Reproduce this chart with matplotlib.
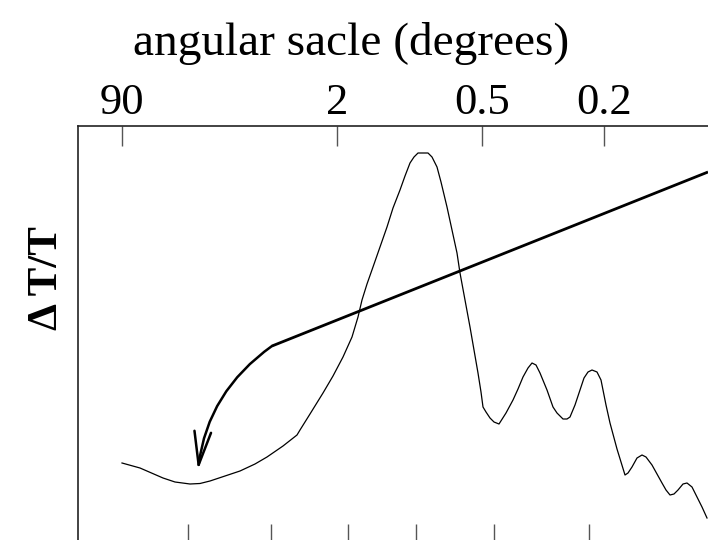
import matplotlib
matplotlib.use("Agg")
import matplotlib.pyplot as plt

# ---- data (arbitrary units) ----
curve_x = [44, 62, 85, 97, 112, 122, 132, 147, 162, 177, 189, 205, 219, 222, 232, 245, 255,
           265, 274, 280, 284, 289, 295, 302, 309, 315, 322, 327, 332, 336, 340, 350, 354,
           359, 363, 369, 374, 379, 382, 387, 392, 396, 400, 403, 405, 408, 412, 416, 421,
           428, 435, 440, 445, 450, 454, 458, 462, 469, 475, 479, 485, 489, 492, 497, 502,
           506, 510, 514, 519, 523, 525, 528, 532, 539, 547, 550, 554, 559, 564, 568, 574,
           579, 584, 588, 592, 596, 600, 605, 609, 614, 619, 624, 629]
curve_y = [77, 72, 62, 58, 56, 56.5, 59, 64, 69, 76, 83, 94, 105, 110, 126, 147, 164,
           183, 203, 223, 240, 256, 273, 293, 313, 332, 350, 364, 377, 383, 387, 387, 383,
           373, 358, 333, 310, 287, 267, 240, 213, 190, 167, 148, 133, 128, 122, 118, 116,
           127, 140, 151, 163, 172, 177, 175, 167, 150, 133, 127, 121, 121, 123, 135, 150,
           162, 168, 170, 168, 160, 150, 135, 117, 91, 65, 67, 73, 82, 85, 83, 75,
           66, 57, 50, 45, 46, 50, 56, 57, 53, 43, 33, 22]

line_x = [194, 630]
line_y = [194, 368]
arrow_start = (194, 194)
arrow_end = (120, 70)

top_tick_pos = [44, 259, 404, 526]
top_tick_labels = ["90", "2", "0.5", "0.2"]
bottom_tick_pos = [110, 193, 270, 338, 416, 511]

title_text = "angular sacle (degrees)"
ylabel_text = "Δ T/T"

# ---- figure ----
W, H, DPI = 708, 540, 100
fig = plt.figure(figsize=(W / DPI, H / DPI), dpi=DPI)
plt.rcParams['font.family'] = ['Liberation Serif', 'DejaVu Serif']

ax = fig.add_axes([78 / W, 0, 630 / W, 414 / H])
ax.set_xlim(0, 630)
ax.set_ylim(0, 414)

for s in ['bottom', 'right']:
    ax.spines[s].set_visible(False)
for s in ['top', 'left']:
    ax.spines[s].set_linewidth(1.2)
    ax.spines[s].set_color('#222222')

ax.plot(curve_x, curve_y, color='black', lw=0.9, clip_on=False)
ax.plot(line_x, line_y, color='black', lw=2.0, solid_capstyle='butt')
ax.annotate("", xy=arrow_end, xytext=arrow_start,
            arrowprops=dict(arrowstyle="->,head_length=2.4,head_width=0.6",
                            connectionstyle="arc3,rad=0.22",
                            color='black', lw=1.8, shrinkA=0, shrinkB=0))

# top ticks with labels
ax.xaxis.tick_top()
ax.set_xticks(top_tick_pos)
ax.set_xticklabels(top_tick_labels, fontsize=32)
ax.tick_params(axis='x', which='major', direction='in', length=14.5, width=1.0,
               color='#555555', pad=2, top=True, bottom=False)
# bottom ticks (minor, no labels)
ax.set_xticks(bottom_tick_pos, minor=True)
ax.tick_params(axis='x', which='minor', direction='in', length=11.5, width=1.0,
               color='#555555', bottom=True, top=False, labelbottom=False, labeltop=False)
ax.set_yticks([])

fig.text(351 / W, 1 - 55 / H, title_text, fontsize=34, ha='center', va='baseline')
fig.text(47 / W, 1 - 278 / H, ylabel_text, fontsize=31, fontweight='bold',
         rotation=90, ha='center', va='center')

fig.savefig("out.png", dpi=DPI)
